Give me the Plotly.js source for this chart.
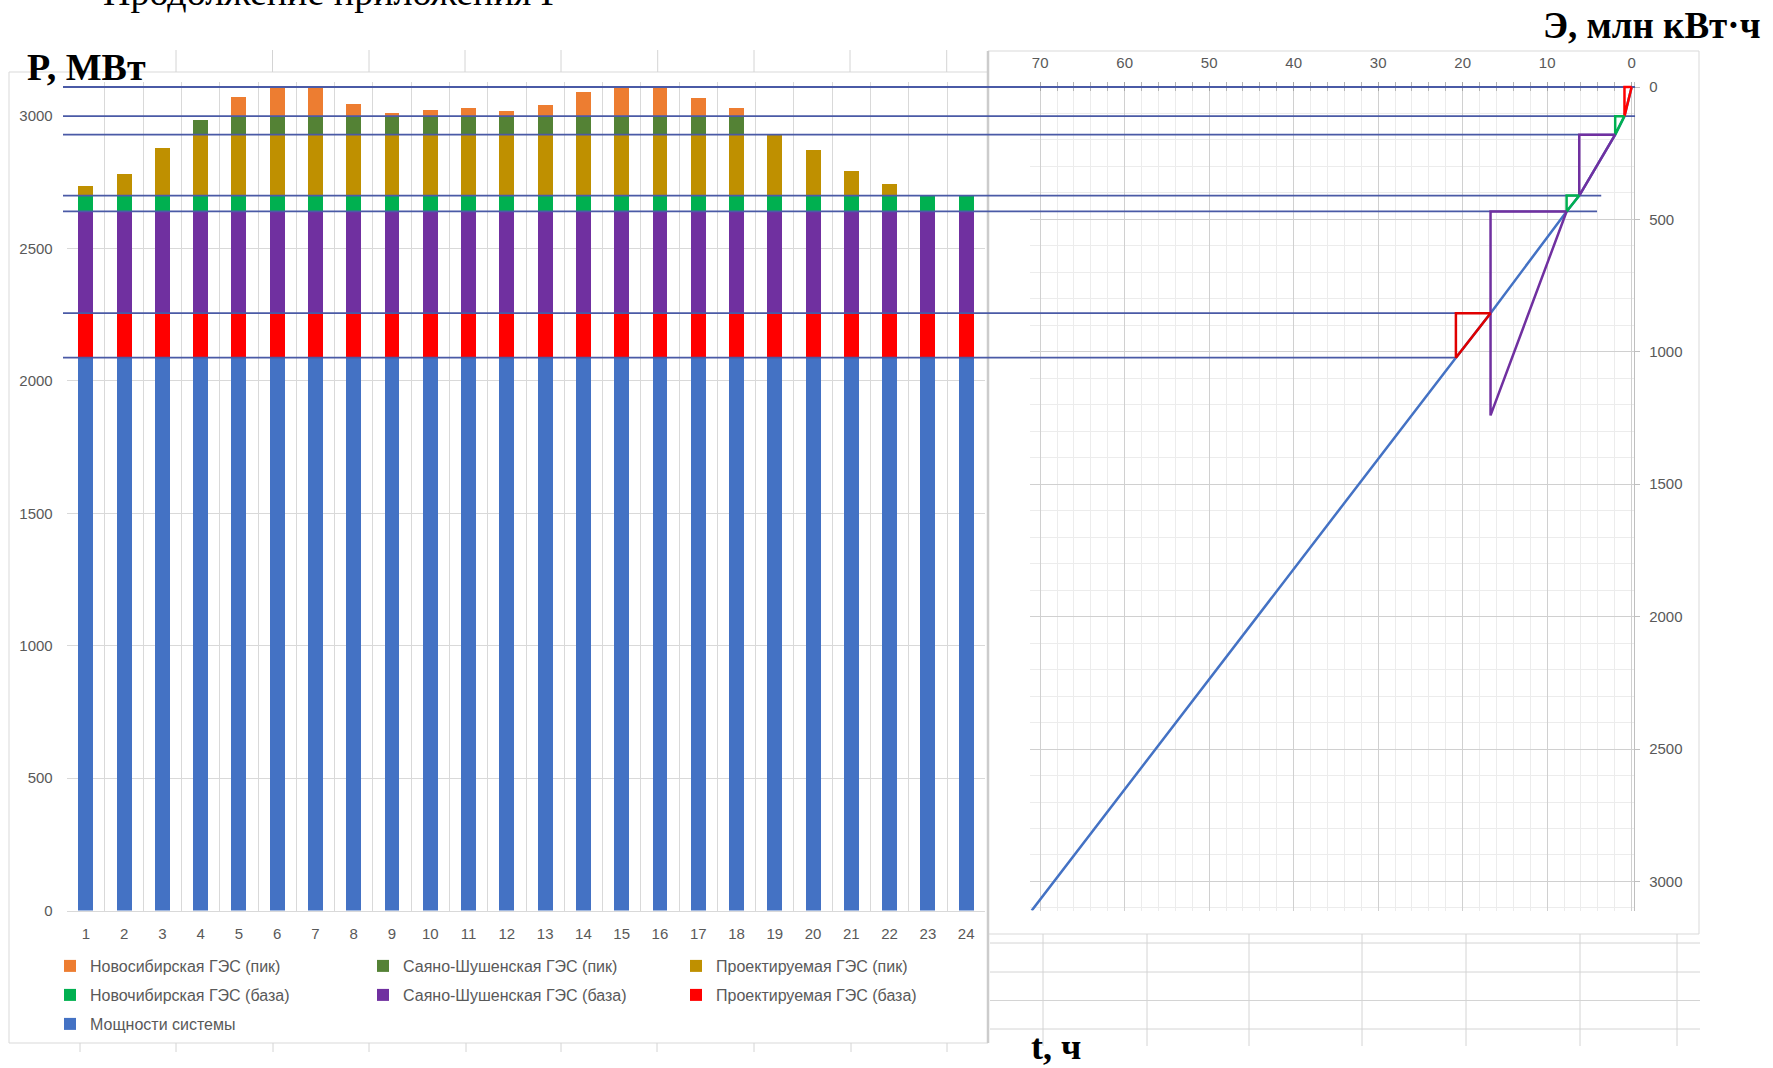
<!DOCTYPE html>
<html>
<head>
<meta charset="utf-8">
<script src="https://cdn.plot.ly/plotly-3.0.1.min.js"></script>
<style>html,body{margin:0;padding:0;background:#fff;}#chart{width:1773px;height:1068px;}</style>
</head>
<body>
<div id="chart"></div>
<script>
// ---------------- DATA ----------------
const hours = ['1','2','3','4','5','6','7','8','9','10','11','12','13','14','15','16','17','18','19','20','21','22','23','24'];
// stacked power components, MW
const systemPower = [2088,2088,2088,2088,2088,2088,2088,2088,2088,2088,2088,2088,2088,2088,2088,2088,2088,2088,2088,2088,2088,2088,2088,2088];
const projBase    = [168,168,168,168,168,168,168,168,168,168,168,168,168,168,168,168,168,168,168,168,168,168,168,168];
const sayanBase   = [384,384,384,384,384,384,384,384,384,384,384,384,384,384,384,384,384,384,384,384,384,384,384,384];
const novBase     = [60,60,60,60,60,60,60,60,60,60,60,60,60,60,60,60,60,60,60,60,60,60,60,60];
const projPeak    = [35,80,178,230,230,230,230,230,230,230,230,230,230,230,230,230,230,230,230,174,92,43,0,0];
const sayanPeak   = [0,0,0,57,70,70,70,70,70,70,70,70,70,70,70,70,70,70,0,0,0,0,0,0];
const novPeak     = [0,0,0,0,74,110,110,47,13,25,32,19,42,91,110,110,69,31,0,0,0,0,0,0];

// horizontal level lines carried from the bar chart into the integral curve (P, MW) and where they end (E)
const levelP    = [3110, 3000, 2930, 2700, 2640, 2256, 2088];
const levelEndE = [-0.4, -0.4, 1.95, 3.6, 4.1, 20.8, 20.8];

// integral load curve: E (млн кВт·ч) vs depth below Pmax (MW)
const curveE = [0, 0.85, 1.95, 6.2, 7.7, 16.7, 20.8, 71.0];
const curveD = [0, 110, 180, 410, 470, 854, 1022, 3110];

// triangles of the stations on the integral curve
const triRedTopE   = [0, 0.85, 0.85, 0];     const triRedTopD   = [0, 0, 110, 0];
const triGreenTopE = [0.85, 1.95, 1.95, 0.85]; const triGreenTopD = [110, 110, 180, 110];
const triPurpTopE  = [1.95, 6.2, 6.2, 1.95];  const triPurpTopD  = [180, 180, 410, 180];
const triGreenMidE = [6.2, 7.7, 7.7, 6.2];    const triGreenMidD = [410, 410, 470, 410];
const triPurpBigE  = [7.7, 16.7, 16.7, 7.7];  const triPurpBigD  = [470, 470, 1240, 470];
const triRedLowE   = [16.7, 20.8, 20.8, 16.7]; const triRedLowD   = [854, 854, 1022, 854];

const xTicksE = [0,10,20,30,40,50,60,70];
const yTicksD = [0,500,1000,1500,2000,2500,3000];
const yTicksP = [0,500,1000,1500,2000,2500,3000];

// ---------------- LAYOUT HELPERS ----------------
const W = 1773, H = 1068;
const fx = p => p / W;
const fy = p => 1 - p / H;
const yDom = [fy(910.6), fy(81.7)];
const xDomL = [fx(66.7), fx(985.3)];
const rightPx = [1030, 1634.2];
const xDomR = [fx(rightPx[0]), fx(rightPx[1])];
const rangeR = [71.2, -0.3];
const overPx = [63, 1700];
const sc = (rightPx[1] - rightPx[0]) / (rangeR[0] - rangeR[1]);
const rangeO = [rangeR[0] + (rightPx[0] - overPx[0]) / sc, rangeR[0] - (overPx[1] - rightPx[0]) / sc];
const rangeP = [0, 3130];
const rangeD = [3110, -20];

const tickFont = {family: 'Liberation Sans, Arial, sans-serif', size: 15, color: '#595959'};
const legFont = {family: 'Liberation Sans, Arial, sans-serif', size: 16, color: '#595959'};

// ---------------- TRACES ----------------
function bar(name, vals, color, legend) {
  return {type: 'bar', name: name, x: hours, y: vals, marker: {color: color, line: {width: 0}},
          xaxis: 'x', yaxis: 'y', legend: legend, hoverinfo: 'skip'};
}
const traces = [
  bar('Мощности системы', systemPower, '#4472C4', 'legend3'),
  bar('Проектируемая ГЭС (база)', projBase, '#FF0000', 'legend2'),
  bar('Саяно-Шушенская ГЭС (база)', sayanBase, '#7030A0', 'legend2'),
  bar('Новочибирская ГЭС (база)', novBase, '#00B050', 'legend2'),
  bar('Проектируемая ГЭС (пик)', projPeak, '#BF9000', 'legend'),
  bar('Саяно-Шушенская ГЭС (пик)', sayanPeak, '#548235', 'legend'),
  bar('Новосибирская ГЭС (пик)', novPeak, '#ED7D31', 'legend'),
  // right chart frame (axes/grid only)
  {type: 'scatter', mode: 'lines', x: [], y: [], xaxis: 'x2', yaxis: 'y2', showlegend: false, hoverinfo: 'skip'}
];
// level lines across both charts
for (let i = 0; i < levelP.length; i++) {
  traces.push({type: 'scatter', mode: 'lines', x: [rangeO[0], levelEndE[i]], y: [levelP[i], levelP[i]],
    xaxis: 'x3', yaxis: 'y3', line: {color: '#4a5aa6', width: 1.8}, showlegend: false, hoverinfo: 'skip'});
}
// integral curve and triangles
traces.push({type: 'scatter', mode: 'lines', x: curveE, y: curveD, xaxis: 'x4', yaxis: 'y4',
  line: {color: '#4472C4', width: 2.5}, showlegend: false, hoverinfo: 'skip'});
const tris = [
  [triRedTopE, triRedTopD, '#FF0000'],
  [triGreenTopE, triGreenTopD, '#00B050'],
  [triPurpTopE, triPurpTopD, '#7030A0'],
  [triGreenMidE, triGreenMidD, '#00B050'],
  [triPurpBigE, triPurpBigD, '#7030A0'],
  [triRedLowE, triRedLowD, '#E00000']
];
tris.forEach(t => traces.push({type: 'scatter', mode: 'lines', x: t[0], y: t[1], xaxis: 'x4', yaxis: 'y4',
  line: {color: t[2], width: 2.5}, showlegend: false, hoverinfo: 'skip'}));

// ---------------- DECORATION (sheet/chart frames) ----------------
const shapes = [];
function pline(x0, y0, x1, y1, color, width) {
  shapes.push({type: 'line', xref: 'paper', yref: 'paper', x0: fx(x0), y0: fy(y0), x1: fx(x1), y1: fy(y1),
    line: {color: color, width: width}, layer: 'below'});
}
// chart areas
shapes.push({type: 'rect', xref: 'paper', yref: 'paper', x0: fx(9), y0: fy(1043), x1: fx(988), y1: fy(72),
  line: {color: '#d9d9d9', width: 1}, layer: 'below'});
shapes.push({type: 'rect', xref: 'paper', yref: 'paper', x0: fx(988), y0: fy(934), x1: fx(1699), y1: fy(51),
  line: {color: '#d9d9d9', width: 1}, layer: 'below'});
pline(988, 51, 988, 1043, '#cccccc', 2.5);
// worksheet cell lines peeking around the charts
[176, 272.5, 369, 465, 561, 657.7, 754, 850, 946.7].forEach(x => pline(x, 50, x, 72, '#d4d4d4', 1));
[80, 176, 273, 369, 466, 561, 657, 754, 851, 947].forEach(x => pline(x, 1043, x, 1052, '#d4d4d4', 1));
[943, 972, 1000.5, 1029].forEach(y => pline(990, y, 1700, y, '#d4d4d4', 1));
[1043, 1147, 1249, 1362, 1466, 1580, 1677].forEach(x => pline(x, 934, x, 1046, '#d4d4d4', 1));

// ---------------- LAYOUT ----------------
const legBase = {orientation: 'h', xanchor: 'left', yanchor: 'middle', x: fx(50), entrywidth: 268,
  entrywidthmode: 'pixels', traceorder: 'reversed', font: legFont, bgcolor: 'rgba(0,0,0,0)', itemwidth: 30};

const layout = {
  width: W, height: H,
  margin: {l: 0, r: 0, t: 0, b: 0},
  paper_bgcolor: '#ffffff', plot_bgcolor: 'rgba(0,0,0,0)',
  barmode: 'stack', bargap: 0.61,
  showlegend: true,
  legend: Object.assign({}, legBase, {y: fy(966)}),
  legend2: Object.assign({}, legBase, {y: fy(995)}),
  legend3: Object.assign({}, legBase, {y: fy(1024)}),
  xaxis: {domain: xDomL, anchor: 'y', type: 'category', tickson: 'boundaries', showgrid: true,
    gridcolor: '#d9d9d9', gridwidth: 1, showline: true, linecolor: '#d9d9d9', ticks: '',
    tickfont: tickFont, ticklabelstandoff: 9, range: [-0.5, 23.5], zeroline: false},
  yaxis: {domain: yDom, anchor: 'x', range: rangeP, tickvals: yTicksP, showgrid: true,
    gridcolor: '#d9d9d9', gridwidth: 1, zeroline: false, showline: false, ticks: '',
    tickfont: tickFont, ticklabelstandoff: 13},
  xaxis2: {domain: xDomR, anchor: 'y2', side: 'top', range: rangeR, tickvals: xTicksE,
    showgrid: true, gridcolor: '#d0d0d0', gridwidth: 1, zeroline: false, showline: false,
    ticks: 'inside', ticklen: 9, tickcolor: '#a6a6a6', tickfont: tickFont, ticklabelstandoff: 10,
    minor: {dtick: 2, tick0: 0, showgrid: true, gridcolor: '#ececec', ticks: 'inside', ticklen: 9, tickcolor: '#b4b4b4'}},
  yaxis2: {domain: yDom, anchor: 'x2', side: 'right', range: rangeD, tickvals: yTicksD,
    showgrid: true, gridcolor: '#d0d0d0', gridwidth: 1, zeroline: false, showline: true,
    linecolor: '#bfbfbf', linewidth: 1, ticks: 'outside', ticklen: 5, tickcolor: '#bfbfbf',
    tickfont: tickFont, ticklabelstandoff: 6,
    minor: {dtick: 100, tick0: 0, showgrid: true, gridcolor: '#ececec'}},
  xaxis3: {domain: [fx(overPx[0]), fx(overPx[1])], anchor: 'y3', range: rangeO, visible: false, showgrid: false, zeroline: false},
  yaxis3: {domain: yDom, anchor: 'x3', range: rangeP, visible: false, showgrid: false, zeroline: false},
  xaxis4: {domain: xDomR, anchor: 'y4', range: rangeR, visible: false, showgrid: false, zeroline: false},
  yaxis4: {domain: yDom, anchor: 'x4', range: rangeD, visible: false, showgrid: false, zeroline: false},
  shapes: shapes,
  annotations: [
    {text: 'Продолжение приложения Г', xref: 'paper', yref: 'paper', x: fx(101), y: fy(15),
      xanchor: 'left', yanchor: 'bottom', showarrow: false,
      font: {family: 'Liberation Serif, Times New Roman, serif', size: 38, color: '#000'}},
    {text: '<b>P, МВт</b>', xref: 'paper', yref: 'paper', x: fx(25), y: fy(67),
      xanchor: 'left', yanchor: 'middle', showarrow: false,
      font: {family: 'Liberation Serif, Times New Roman, serif', size: 38, color: '#000'}},
    {text: '<b>Э, млн кВт·ч</b>', xref: 'paper', yref: 'paper', x: fx(1763), y: fy(25),
      xanchor: 'right', yanchor: 'middle', showarrow: false,
      font: {family: 'Liberation Serif, Times New Roman, serif', size: 37, color: '#000'}},
    {text: '<b>t, ч</b>', xref: 'paper', yref: 'paper', x: fx(1029), y: fy(1047),
      xanchor: 'left', yanchor: 'middle', showarrow: false,
      font: {family: 'Liberation Serif, Times New Roman, serif', size: 36, color: '#000'}}
  ]
};

Plotly.newPlot('chart', traces, layout, {staticPlot: true, displayModeBar: false});
</script>
</body>
</html>
